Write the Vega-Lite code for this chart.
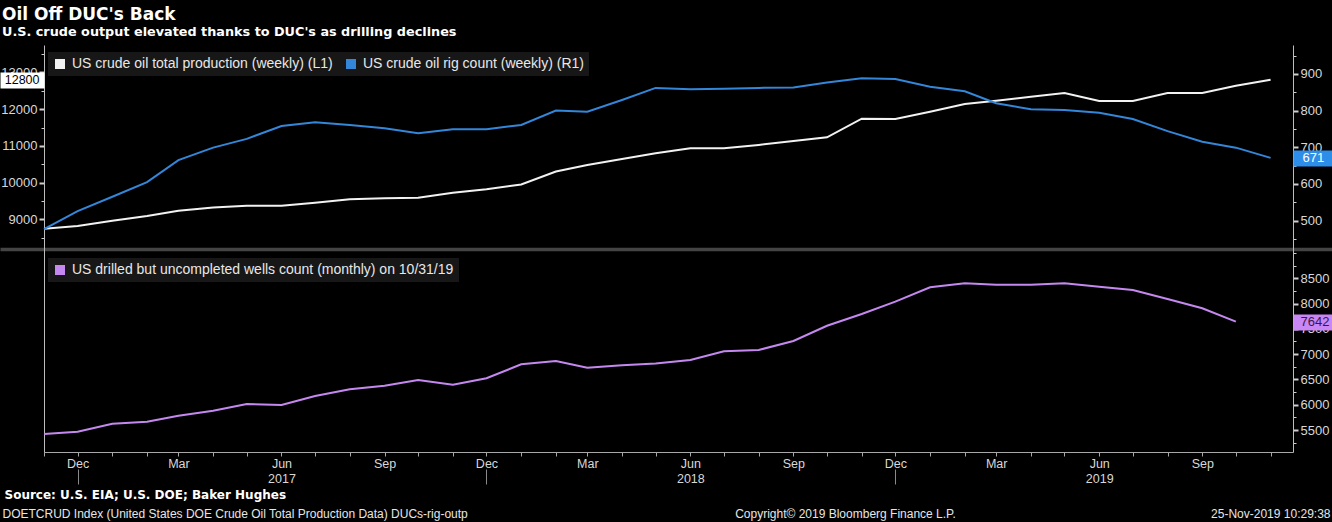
{
  "$schema": "https://vega.github.io/schema/vega-lite/v6.json",
  "width": 1249,
  "height": 407,
  "autosize": {"type": "none"},
  "padding": {"left": 44, "top": 45, "right": 39, "bottom": 70},
  "background": "#000000",
  "title": {
    "text": "Oil Off DUC's Back",
    "subtitle": "U.S. crude output elevated thanks to DUC's as drilling declines",
    "anchor": "start",
    "frame": "group",
    "dx": -42,
    "offset": 5,
    "font": "DejaVu Sans",
    "fontSize": 17,
    "fontWeight": "bold",
    "color": "#ffffff",
    "subtitleFont": "DejaVu Sans",
    "subtitleFontSize": 12.8,
    "subtitleFontWeight": "bold",
    "subtitleColor": "#ffffff",
    "subtitlePadding": 2
  },
  "data": {
    "values": [
      {"date": "2016-11-01", "production": 8740, "rigs": 477, "duc": 5421},
      {"date": "2016-12-01", "production": 8820, "rigs": 526, "duc": 5466},
      {"date": "2017-01-01", "production": 8960, "rigs": 565, "duc": 5625},
      {"date": "2017-02-01", "production": 9090, "rigs": 605, "duc": 5664},
      {"date": "2017-03-01", "production": 9230, "rigs": 665, "duc": 5783},
      {"date": "2017-04-01", "production": 9320, "rigs": 699, "duc": 5882},
      {"date": "2017-05-01", "production": 9370, "rigs": 723, "duc": 6014},
      {"date": "2017-06-01", "production": 9370, "rigs": 758, "duc": 5994},
      {"date": "2017-07-01", "production": 9450, "rigs": 768, "duc": 6172},
      {"date": "2017-08-01", "production": 9545, "rigs": 761, "duc": 6304},
      {"date": "2017-09-01", "production": 9570, "rigs": 752, "duc": 6376},
      {"date": "2017-10-01", "production": 9590, "rigs": 738, "duc": 6488},
      {"date": "2017-11-01", "production": 9720, "rigs": 749, "duc": 6395},
      {"date": "2017-12-01", "production": 9820, "rigs": 749, "duc": 6522},
      {"date": "2018-01-01", "production": 9950, "rigs": 761, "duc": 6798},
      {"date": "2018-02-01", "production": 10300, "rigs": 800, "duc": 6864},
      {"date": "2018-03-01", "production": 10480, "rigs": 797, "duc": 6731},
      {"date": "2018-04-01", "production": 10640, "rigs": 829, "duc": 6778},
      {"date": "2018-05-01", "production": 10800, "rigs": 862, "duc": 6815},
      {"date": "2018-06-01", "production": 10935, "rigs": 858, "duc": 6883},
      {"date": "2018-07-01", "production": 10935, "rigs": 860, "duc": 7055},
      {"date": "2018-08-01", "production": 11025, "rigs": 862, "duc": 7081},
      {"date": "2018-09-01", "production": 11135, "rigs": 863, "duc": 7259},
      {"date": "2018-10-01", "production": 11235, "rigs": 877, "duc": 7561},
      {"date": "2018-11-01", "production": 11740, "rigs": 888, "duc": 7792},
      {"date": "2018-12-01", "production": 11735, "rigs": 886, "duc": 8036},
      {"date": "2019-01-01", "production": 11930, "rigs": 865, "duc": 8320},
      {"date": "2019-02-01", "production": 12140, "rigs": 853, "duc": 8399},
      {"date": "2019-03-01", "production": 12230, "rigs": 820, "duc": 8372},
      {"date": "2019-04-01", "production": 12340, "rigs": 804, "duc": 8372},
      {"date": "2019-05-01", "production": 12440, "rigs": 802, "duc": 8399},
      {"date": "2019-06-01", "production": 12225, "rigs": 794, "duc": 8332},
      {"date": "2019-07-01", "production": 12225, "rigs": 777, "duc": 8267},
      {"date": "2019-08-01", "production": 12440, "rigs": 744, "duc": 8089},
      {"date": "2019-09-01", "production": 12440, "rigs": 715, "duc": 7905},
      {"date": "2019-10-01", "production": 12640, "rigs": 699, "duc": 7642},
      {"date": "2019-11-01", "production": 12800, "rigs": 671, "duc": null}
    ]
  },
  "resolve": {
    "scale": {"y": "independent"},
    "axis": {"x": "independent", "y": "independent"}
  },
  "layer": [
    {
      "mark": {"type": "line", "strokeWidth": 2},
      "encoding": {
        "x": {
          "field": "date", "type": "temporal",
          "scale": {"type": "utc", "domain": [{"year": 2016, "month": 11, "date": 1, "utc": true}, {"year": 2019, "month": 11, "date": 21, "utc": true}]},
          "axis": {
            "orient": "bottom",
            "values": [
              {"year": 2016, "month": 11, "date": 1, "utc": true}, {"year": 2016, "month": 12, "date": 1, "utc": true},
              {"year": 2017, "month": 1, "date": 1, "utc": true}, {"year": 2017, "month": 2, "date": 1, "utc": true}, {"year": 2017, "month": 3, "date": 1, "utc": true}, {"year": 2017, "month": 4, "date": 1, "utc": true}, {"year": 2017, "month": 5, "date": 1, "utc": true}, {"year": 2017, "month": 6, "date": 1, "utc": true}, {"year": 2017, "month": 7, "date": 1, "utc": true}, {"year": 2017, "month": 8, "date": 1, "utc": true}, {"year": 2017, "month": 9, "date": 1, "utc": true}, {"year": 2017, "month": 10, "date": 1, "utc": true}, {"year": 2017, "month": 11, "date": 1, "utc": true}, {"year": 2017, "month": 12, "date": 1, "utc": true},
              {"year": 2018, "month": 1, "date": 1, "utc": true}, {"year": 2018, "month": 2, "date": 1, "utc": true}, {"year": 2018, "month": 3, "date": 1, "utc": true}, {"year": 2018, "month": 4, "date": 1, "utc": true}, {"year": 2018, "month": 5, "date": 1, "utc": true}, {"year": 2018, "month": 6, "date": 1, "utc": true}, {"year": 2018, "month": 7, "date": 1, "utc": true}, {"year": 2018, "month": 8, "date": 1, "utc": true}, {"year": 2018, "month": 9, "date": 1, "utc": true}, {"year": 2018, "month": 10, "date": 1, "utc": true}, {"year": 2018, "month": 11, "date": 1, "utc": true}, {"year": 2018, "month": 12, "date": 1, "utc": true},
              {"year": 2019, "month": 1, "date": 1, "utc": true}, {"year": 2019, "month": 2, "date": 1, "utc": true}, {"year": 2019, "month": 3, "date": 1, "utc": true}, {"year": 2019, "month": 4, "date": 1, "utc": true}, {"year": 2019, "month": 5, "date": 1, "utc": true}, {"year": 2019, "month": 6, "date": 1, "utc": true}, {"year": 2019, "month": 7, "date": 1, "utc": true}, {"year": 2019, "month": 8, "date": 1, "utc": true}, {"year": 2019, "month": 9, "date": 1, "utc": true}, {"year": 2019, "month": 10, "date": 1, "utc": true}, {"year": 2019, "month": 11, "date": 1, "utc": true}
            ],
            "labelExpr": "indexof([2,5,8,11], utcmonth(datum.value)) >= 0 ? utcFormat(datum.value, '%b') : ''",
            "tickSize": 4, "tickWidth": 1, "labelPadding": 1, "labelFontSize": 12.5,
            "domain": true, "domainColor": "#a8a8a8", "tickColor": "#a8a8a8",
            "labelFlush": false, "labelOverlap": false, "labelBound": false,
            "title": "Source: U.S. EIA; U.S. DOE; Baker Hughes",
            "titleX": -40, "titleY": 46.5, "titleAlign": "left", "titleBaseline": "alphabetic",
            "titleFont": "DejaVu Sans", "titleFontWeight": "bold", "titleFontSize": 12, "titleColor": "#ffffff"
          }
        },
        "y": {
          "field": "production", "type": "quantitative",
          "scale": {"domain": [8245, 13749], "range": [202, 0], "nice": false, "zero": false},
          "axis": {"orient": "left", "values": [9000, 10000, 11000, 12000, 13000], "format": "d", "title": null, "domain": false, "tickSize": 5, "tickWidth": 2, "labelPadding": 2}
        },
        "color": {
          "datum": "US crude oil total production (weekly) (L1)", "type": "nominal",
          "scale": {"domain": ["US crude oil total production (weekly) (L1)", "US crude oil rig count (weekly) (R1)"], "range": ["#f2f2f2", "#3486d8"]},
          "legend": {
            "orient": "none", "legendX": 4, "legendY": 7, "direction": "horizontal", "title": null,
            "fillColor": "#171717", "padding": 5, "symbolType": "square", "symbolSize": 100, "symbolStrokeWidth": 0,
            "labelOffset": 5, "columnPadding": 11,
            "encode": {"symbols": {"update": {"fill": {"scale": "color", "field": "value"}, "opacity": {"value": 1}}}}
          }
        }
      }
    },
    {
      "mark": {"type": "line", "strokeWidth": 2},
      "encoding": {
        "x": {
          "field": "date", "type": "temporal",
          "scale": {"type": "utc", "domain": [{"year": 2016, "month": 11, "date": 1, "utc": true}, {"year": 2019, "month": 11, "date": 21, "utc": true}]},
          "axis": {
            "orient": "bottom",
            "values": [{"year": 2017, "month": 6, "date": 1, "utc": true}, {"year": 2018, "month": 6, "date": 1, "utc": true}, {"year": 2019, "month": 6, "date": 1, "utc": true}],
            "labelExpr": "utcFormat(datum.value, '%Y')",
            "ticks": false, "tickSize": 0, "domain": false, "labelPadding": 20, "labelFontSize": 12.5,
            "labelFlush": false, "labelOverlap": false,
            "title": "DOETCRUD Index (United States DOE Crude Oil Total Production Data) DUCs-rig-outp",
            "titleX": -42, "titleY": 65.5, "titleAlign": "left", "titleBaseline": "alphabetic"
          }
        },
        "y": {
          "field": "rigs", "type": "quantitative",
          "scale": {"domain": [428, 979], "range": [202, 0], "nice": false, "zero": false},
          "axis": {"orient": "right", "values": [500, 600, 700, 800, 900], "format": "d", "title": null, "domain": false, "tickSize": 5, "tickWidth": 2, "labelPadding": 2}
        },
        "color": {"datum": "US crude oil rig count (weekly) (R1)", "type": "nominal"}
      }
    },
    {
      "mark": {"type": "line", "strokeWidth": 2},
      "encoding": {
        "x": {
          "field": "date", "type": "temporal",
          "scale": {"type": "utc", "domain": [{"year": 2016, "month": 11, "date": 1, "utc": true}, {"year": 2019, "month": 11, "date": 21, "utc": true}]},
          "axis": {
            "orient": "bottom",
            "values": [{"year": 2016, "month": 12, "date": 1, "utc": true}, {"year": 2017, "month": 12, "date": 1, "utc": true}, {"year": 2018, "month": 12, "date": 1, "utc": true}],
            "offset": 17, "tickSize": 15, "tickWidth": 1, "tickColor": "#8a8a8a", "domain": false, "labels": false,
            "title": "Copyright© 2019 Bloomberg Finance L.P.",
            "titleX": 801, "titleY": 48.5, "titleAlign": "center", "titleBaseline": "alphabetic"
          }
        },
        "y": {
          "field": "duc", "type": "quantitative",
          "scale": {"domain": [5105, 9018], "range": [405, 207], "nice": false, "zero": false},
          "axis": {"orient": "right", "values": [5500, 6000, 6500, 7000, 7500, 8000, 8500], "format": "d", "title": null, "domain": false, "tickSize": 5, "tickWidth": 2, "labelPadding": 2}
        },
        "stroke": {
          "datum": "US drilled but uncompleted wells count (monthly) on 10/31/19", "type": "nominal",
          "scale": {"domain": ["US drilled but uncompleted wells count (monthly) on 10/31/19"], "range": ["#c588f0"]},
          "legend": {
            "orient": "none", "legendX": 4, "legendY": 213, "direction": "horizontal", "title": null,
            "fillColor": "#171717", "padding": 5, "symbolType": "square", "symbolSize": 100, "symbolStrokeWidth": 0,
            "labelOffset": 5,
            "encode": {"symbols": {"update": {"fill": {"scale": "stroke", "field": "value"}, "opacity": {"value": 1}}}}
          }
        }
      }
    },
    {
      "transform": [{"filter": "false"}],
      "mark": {"type": "line"},
      "encoding": {
        "x": {
          "field": "date", "type": "temporal",
          "scale": {"type": "utc", "domain": [{"year": 2016, "month": 11, "date": 1, "utc": true}, {"year": 2019, "month": 11, "date": 21, "utc": true}]},
          "axis": {"orient": "bottom", "domain": false, "ticks": false, "labels": false, "grid": false,
            "title": "25-Nov-2019 10:29:38", "titleX": 1286, "titleY": 65.5, "titleAlign": "right", "titleBaseline": "alphabetic"}
        },
        "y": {
          "field": "production", "type": "quantitative",
          "scale": {"domain": [8245, 13749], "range": [202, 0], "nice": false, "zero": false},
          "axis": {"orient": "left", "values": [8500, 9500, 10500, 11500, 12500, 13500], "title": null, "domain": false, "labels": false, "tickSize": 3, "tickWidth": 1}
        }
      }
    },
    {
      "transform": [{"filter": "false"}],
      "mark": {"type": "line"},
      "encoding": {
        "x": {"field": "date", "type": "temporal", "scale": {"type": "utc", "domain": [{"year": 2016, "month": 11, "date": 1, "utc": true}, {"year": 2019, "month": 11, "date": 21, "utc": true}]}, "axis": null},
        "y": {
          "field": "rigs", "type": "quantitative",
          "scale": {"domain": [428, 979], "range": [202, 0], "nice": false, "zero": false},
          "axis": {"orient": "right", "values": [450, 550, 650, 750, 850, 950], "title": null, "domain": false, "labels": false, "tickSize": 3, "tickWidth": 1}
        }
      }
    },
    {
      "transform": [{"filter": "false"}],
      "mark": {"type": "line"},
      "encoding": {
        "x": {"field": "date", "type": "temporal", "scale": {"type": "utc", "domain": [{"year": 2016, "month": 11, "date": 1, "utc": true}, {"year": 2019, "month": 11, "date": 21, "utc": true}]}, "axis": null},
        "y": {
          "field": "duc", "type": "quantitative",
          "scale": {"domain": [5105, 9018], "range": [405, 207], "nice": false, "zero": false},
          "axis": {"orient": "right", "values": [5250, 5750, 6250, 6750, 7250, 7750, 8250, 8750, 9000], "title": null, "domain": false, "labels": false, "tickSize": 3, "tickWidth": 1}
        }
      }
    },
    {
      "transform": [{"filter": "false"}],
      "mark": {"type": "line"},
      "encoding": {
        "x": {"field": "date", "type": "temporal", "scale": {"type": "utc", "domain": [{"year": 2016, "month": 11, "date": 1, "utc": true}, {"year": 2019, "month": 11, "date": 21, "utc": true}]}, "axis": null},
        "y": {
          "field": "production", "type": "quantitative",
          "scale": {"domain": [0, 407], "range": [407, 0], "nice": false, "zero": false},
          "axis": {"orient": "left", "values": [203], "title": null, "domain": true, "labels": false,
            "tickSize": 44, "tickWidth": 3.5, "tickColor": "#444444",
            "grid": true, "gridColor": "#444444", "gridWidth": 3.5}
        }
      }
    },
    {
      "transform": [{"filter": "false"}],
      "mark": {"type": "line"},
      "encoding": {
        "x": {"field": "date", "type": "temporal", "scale": {"type": "utc", "domain": [{"year": 2016, "month": 11, "date": 1, "utc": true}, {"year": 2019, "month": 11, "date": 21, "utc": true}]}, "axis": null},
        "y": {
          "field": "rigs", "type": "quantitative",
          "scale": {"domain": [0, 407], "range": [407, 0], "nice": false, "zero": false},
          "axis": {"orient": "right", "values": [203], "title": null, "domain": true, "labels": false,
            "tickSize": 39, "tickWidth": 3.5, "tickColor": "#444444", "grid": false}
        }
      }
    },
    {
      "transform": [{"filter": "false"}],
      "mark": {"type": "line"},
      "encoding": {
        "x": {"field": "date", "type": "temporal", "scale": {"type": "utc", "domain": [{"year": 2016, "month": 11, "date": 1, "utc": true}, {"year": 2019, "month": 11, "date": 21, "utc": true}]}, "axis": null},
        "y": {
          "field": "production", "type": "quantitative",
          "scale": {"domain": [8245, 13749], "range": [202, 0], "nice": false, "zero": false},
          "axis": {"orient": "left", "values": [12800], "format": "d", "title": null, "domain": false,
            "tickSize": 44, "tickWidth": 16, "tickColor": "#ffffff",
            "labelPadding": -39, "labelColor": "#000000", "labelFontSize": 12.5}
        }
      }
    },
    {
      "transform": [{"filter": "false"}],
      "mark": {"type": "line"},
      "encoding": {
        "x": {"field": "date", "type": "temporal", "scale": {"type": "utc", "domain": [{"year": 2016, "month": 11, "date": 1, "utc": true}, {"year": 2019, "month": 11, "date": 21, "utc": true}]}, "axis": null},
        "y": {
          "field": "rigs", "type": "quantitative",
          "scale": {"domain": [428, 979], "range": [202, 0], "nice": false, "zero": false},
          "axis": {"orient": "right", "values": [671], "format": "d", "title": null, "domain": false,
            "tickSize": 39, "tickWidth": 16, "tickColor": "#2c8ee8",
            "labelPadding": -30, "labelColor": "#ffffff", "labelFontSize": 13}
        }
      }
    },
    {
      "transform": [{"filter": "false"}],
      "mark": {"type": "line"},
      "encoding": {
        "x": {"field": "date", "type": "temporal", "scale": {"type": "utc", "domain": [{"year": 2016, "month": 11, "date": 1, "utc": true}, {"year": 2019, "month": 11, "date": 21, "utc": true}]}, "axis": null},
        "y": {
          "field": "duc", "type": "quantitative",
          "scale": {"domain": [5105, 9018], "range": [405, 207], "nice": false, "zero": false},
          "axis": {"orient": "right", "values": [7642], "format": "d", "title": null, "domain": false,
            "tickSize": 39, "tickWidth": 16, "tickColor": "#c987f5",
            "labelPadding": -32, "labelColor": "#3a1650", "labelFontSize": 13}
        }
      }
    }
  ],
  "config": {
    "view": {"stroke": null},
    "axis": {
      "labelFont": "Liberation Sans", "labelFontSize": 13, "labelColor": "#d8d8d8",
      "tickColor": "#cfcfcf", "domainColor": "#bdbdbd", "grid": false,
      "titleFont": "Liberation Sans", "titleColor": "#e6e6e6", "titleFontSize": 12, "titleFontWeight": "normal"
    },
    "legend": {
      "labelFont": "Liberation Sans", "labelFontSize": 14, "labelColor": "#e8e8e8", "labelLimit": 600
    }
  }
}
